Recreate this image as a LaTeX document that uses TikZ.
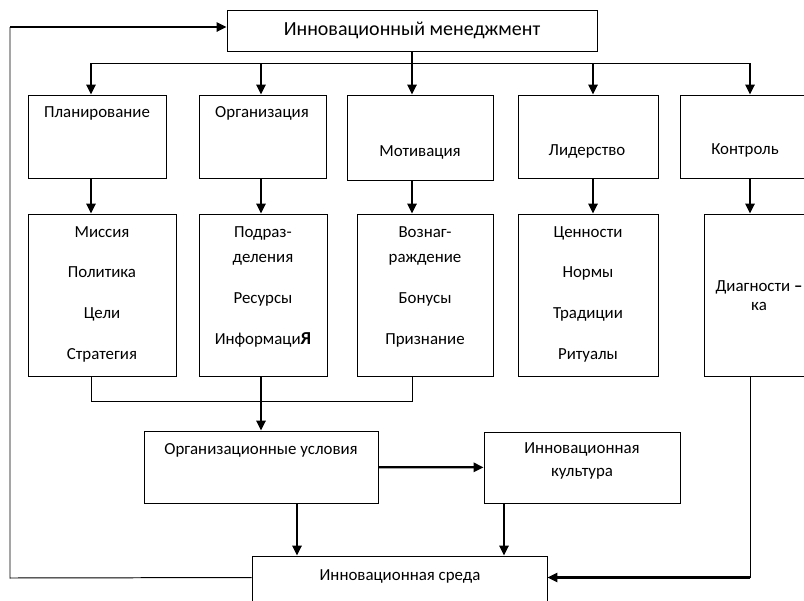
\documentclass[tikz,border=0pt]{standalone}
\usepackage{fontspec}
\setmainfont{Carlito}
\usetikzlibrary{arrows.meta,fit,calc}

\begin{document}
\begin{tikzpicture}[x=0.025cm,y=-0.025cm,
  box/.style={draw,line width=0.7pt,inner sep=0pt},
  arr/.style={line width=1.6pt,-{Triangle[width=6.5pt,length=7pt]}},
  ln/.style={line width=0.7pt},
  txt/.style={font=\fontsize{12}{14}\selectfont,align=center,inner sep=0pt}]
\useasboundingbox (0,0) rectangle (804,600);

% blocks
\node[box,fit={(227,10)(597,51)}] (mgmt) {};
\node[box,fit={(28,95)(166,178)}] (plan) {};
\node[box,fit={(199,95)(326,178)}] (org) {};
\node[box,fit={(347,95)(493,180)}] (motiv) {};
\node[box,fit={(518,95)(658,178)}] (lead) {};
\node[box,fit={(680,95)(840,178)}] (ctrl) {};
\node[box,fit={(28,214)(176,376)}] (miss) {};
\node[box,fit={(199,214)(327,376)}] (dept) {};
\node[box,fit={(357,214)(493,376)}] (rew) {};
\node[box,fit={(518,214)(658,376)}] (val) {};
\node[box,fit={(704,214)(840,376)}] (diag) {};
\node[box,fit={(144,431)(378,503)}] (cond) {};
\node[box,fit={(484,432)(680,503)}] (cult) {};
\node[box,fit={(252,556)(547,640)}] (env) {};

% texts
\node[txt,font=\fontsize{14.2}{17}\selectfont] (mgmtT) at (412,30) {Инновационный менеджмент};
\node[txt] (planT) at (97,113) {Планирование};
\node[txt] (orgT) at (262,113) {Организация};
\node[txt] (motivT) at (420,152) {Мотивация};
\node[txt] (leadT) at (587,151) {Лидерство};
\node[txt] (ctrlT) at (745,150) {Контроль};
\node[txt,font=\fontsize{12}{28.9}\selectfont] (missT) at (102,294) {Миссия\\Политика\\Цели\\Стратегия};
\node[txt,font=\fontsize{12}{17.8}\selectfont] (deptT) at (263,287)
  {Подраз-\\деления\\[11.4pt]Ресурсы\\[11.4pt]Информаци{\fontsize{13}{17.8}\selectfont\bfseries Я}};
\node[txt,font=\fontsize{12}{17.8}\selectfont] (rewT) at (425,287)
  {Вознаг-\\раждение\\[11.4pt]Бонусы\\[11.4pt]Признание};
\node[txt,font=\fontsize{12}{28.9}\selectfont] (valT) at (588,294) {Ценности\\Нормы\\Традиции\\Ритуалы};
\node[txt,font=\fontsize{12}{13.5}\selectfont] (diagT) at (759,296) {Диагности \textbf{–}\\ка};
\node[txt] (condT) at (261,450) {Организационные условия};
\node[txt,font=\fontsize{12}{16.4}\selectfont] (cultT) at (582,461) {Инновационная\\культура};
\node[txt] (envT) at (400,576) {Инновационная среда};

% connectors
\coordinate (b1) at (91,63);
\coordinate (b2) at (261,63);
\coordinate (b3) at (412,63);
\coordinate (b4) at (593,63);
\coordinate (b5) at (750,63);
\draw[ln] (b1) -- (b5);
\foreach \b/\n in {b1/plan,b2/org,b4/lead,b5/ctrl}
  \draw[arr] (\b) -- (\b |- \n.north);
\draw[arr] (mgmt.south) -- (mgmt.south |- motiv.north);
\foreach \b/\n/\m in {b1/plan/miss,b2/org/dept,b3/motiv/rew,b4/lead/val,b5/ctrl/diag}
  \draw[arr] (\b |- \n.south) -- (\b |- \m.north);
\draw[ln] (b1 |- miss.south) -- ++(0,25) -| (b3 |- rew.south);
\draw[arr] (b2 |- dept.south) -- (b2 |- cond.north);
\draw[arr] (cond) -- (cult);
\draw[arr] ($(cond.south)+(36,0)$) coordinate (c1) -- (c1 |- env.north);
\draw[arr] ($(cult.south)+(-78,0)$) coordinate (c2) -- (c2 |- env.north);
\draw[ln] (b5 |- diag.south) -- ++(0,201) coordinate (cr);
\draw[arr] (cr) -- (cr -| env.east);
\draw[ln] (env.north west) ++(0,22) -- (10,578) -- (10,27) coordinate (fb);
\draw[arr] (fb) -- (fb -| mgmt.west);
\end{tikzpicture}
\end{document}
